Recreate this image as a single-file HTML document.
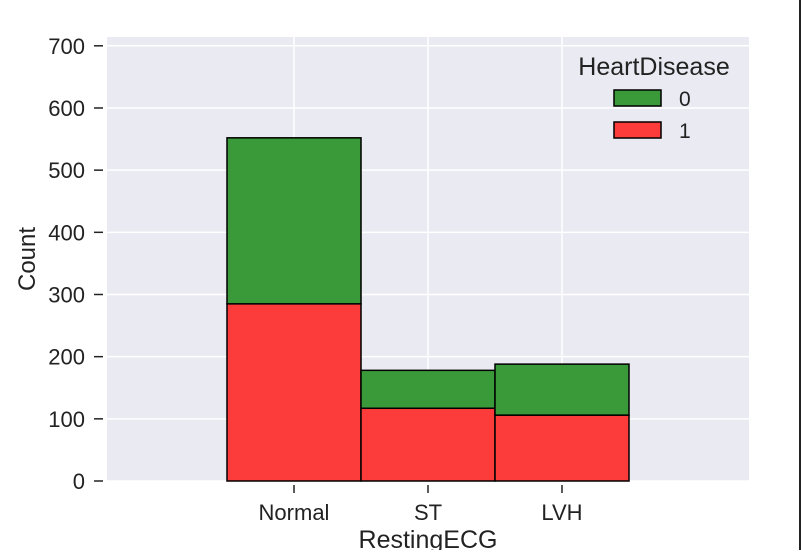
<!DOCTYPE html>
<html><head><meta charset="utf-8"><style>
body{margin:0;background:#fff;width:801px;height:550px;overflow:hidden;font-family:"Liberation Sans",Arial,sans-serif}
</style></head><body>
<svg width="801" height="550" xmlns="http://www.w3.org/2000/svg" font-family="Liberation Sans, Arial, sans-serif">
<rect x="107" y="37" width="642" height="444" fill="#eaeaf2"/>
<g id="grid"></g>
<g id="bars"></g>
<g id="axes"></g>
<rect x="799" y="0" width="2" height="550" fill="#222"/>
<text x="428" y="548" font-size="25" text-anchor="middle" fill="#222">RestingECG</text>
<text transform="translate(35,259) rotate(-90)" font-size="24" text-anchor="middle" fill="#222">Count</text>
<g>
<text x="654" y="75" font-size="25" text-anchor="middle" fill="#222">HeartDisease</text>
<rect x="614" y="90" width="47" height="16" fill="#3a9a3a" stroke="#000" stroke-width="1.5"/>
<text x="679" y="106" font-size="21" fill="#222">0</text>
<rect x="614" y="122" width="47" height="16" fill="#fc3b3b" stroke="#000" stroke-width="1.5"/>
<text x="679" y="138" font-size="21" fill="#222">1</text>
</g>
</svg>
<script>
const categories=["Normal","ST","LVH"];
const noDisease=[267,61,82];
const disease=[285,117,106];
const yTicks=[0,100,200,300,400,500,600,700];
const NS="http://www.w3.org/2000/svg";
const y0=481,pxPer=0.6217;
function yScale(v){return y0-v*pxPer;}
function xCenter(i){return 294+i*134;}
const bw=134;
function mk(tag,attrs,parent,txt){const e=document.createElementNS(NS,tag);for(const k in attrs)e.setAttribute(k,attrs[k]);if(txt!==undefined)e.textContent=txt;document.getElementById(parent).appendChild(e);return e;}
yTicks.forEach(t=>{
 const g=mk('line',{x1:107,x2:749,y1:yScale(t),y2:yScale(t),stroke:'#fff','stroke-width':1.5},'grid');
 
 
 const tk=mk('line',{x1:94,x2:103,y1:yScale(t),y2:yScale(t),stroke:'#222','stroke-width':1.5},'axes');
 
 
 const lb=mk('text',{x:85,y:yScale(t)+8,'font-size':22,'text-anchor':'end',fill:'#222'},'axes',String(t));
 
 
});
categories.forEach((c,i)=>{
 const x=xCenter(i);
 const g=mk('line',{x1:x,x2:x,y1:37,y2:481,stroke:'#fff','stroke-width':1.5},'grid');
 
 
 const tk=mk('line',{x1:x,x2:x,y1:485,y2:493,stroke:'#222','stroke-width':1.5},'axes');
 
 
 const lb=mk('text',{x:x,y:520,'font-size':22,'text-anchor':'middle',fill:'#222'},'axes',c);
 
 
 const r1=mk('rect',{x:x-bw/2,y:yScale(disease[i]),width:bw,height:y0-yScale(disease[i]),fill:'#fc3b3b',stroke:'#000','stroke-width':1.5},'bars');
 
 
 const tot=disease[i]+noDisease[i];
 const r0=mk('rect',{x:x-bw/2,y:yScale(tot),width:bw,height:yScale(disease[i])-yScale(tot),fill:'#3a9a3a',stroke:'#000','stroke-width':1.5},'bars');
 
 
});
</script>
</body></html>
